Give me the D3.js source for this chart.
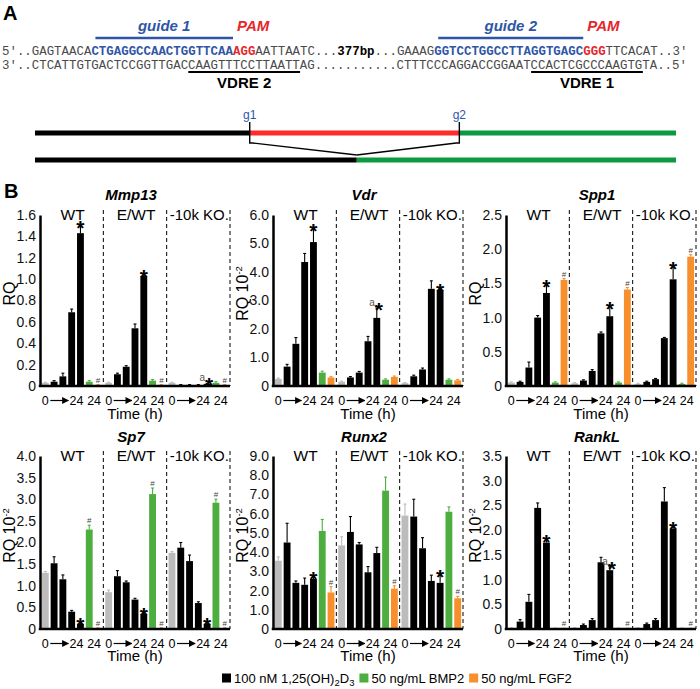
<!DOCTYPE html>
<html><head><meta charset="utf-8">
<script src="https://cdn.jsdelivr.net/npm/d3@7"></script>
<style>body{margin:0;background:#fff}svg{display:block}</style>
</head><body><svg id="c" width="700" height="689"></svg>
<script>
// ---------------- DATA ----------------
const groups = ["WT", "E/WT", "-10k KO."];
const treatments = ["0 h", "1,25D3 a", "1,25D3 b", "1,25D3 c", "1,25D3 24 h", "BMP2 24 h", "FGF2 24 h"];
const treatmentColors = ["#bcbcbc", "#000", "#000", "#000", "#000", "#4dae3f", "#f68f2c"];
const genes = ["Mmp13", "Vdr", "Spp1", "Sp7", "Runx2", "RankL"];
const yMaxes = [1.6, 6.0, 2.5, 4.0, 9.0, 3.5];
const ySteps = [0.2, 1.0, 0.5, 0.5, 1.0, 0.5];
const yTitles = ["RQ", "RQ 10", "RQ", "RQ 10", "RQ 10", "RQ 10"];
const yTitleSup = ["", "-2", "", "-2", "-2", "-2"];
const xTickLabels = ["0", "24", "24"];

const mmp13Values = [[0.03,0.04,0.09,0.69,1.43,0.04,0.01],[0.03,0.11,0.18,0.54,1.03,0.05,0.01],[0.03,0.01,0.01,0.01,0.02,0.03,0.01]];
const mmp13Errors = [[0.005,0.01,0.03,0.03,0.07,0.01,0.003],[0.005,0.01,0.01,0.04,0.01,0.01,0.003],[0.005,0.003,0.003,0.003,0.005,0.01,0.003]];
const vdrValues = [[0.25,0.68,1.48,4.35,5.05,0.47,0.30],[0.15,0.30,0.47,1.57,2.39,0.22,0.32],[0.10,0.34,0.58,3.41,3.37,0.22,0.20]];
const vdrErrors = [[0.03,0.08,0.22,0.30,0.45,0.05,0.03],[0.02,0.03,0.04,0.17,0.35,0.03,0.03],[0.02,0.04,0.05,0.28,0.03,0.03,0.03]];
const spp1Values = [[0.05,0.06,0.27,1.00,1.36,0.05,1.55],[0.04,0.08,0.22,0.77,1.02,0.05,1.41],[0.03,0.06,0.10,0.70,1.56,0.03,1.89]];
const spp1Errors = [[0.01,0.01,0.08,0.03,0.12,0.01,0.02],[0.01,0.01,0.02,0.02,0.14,0.01,0.03],[0.01,0.01,0.01,0.01,0.18,0.01,0.03]];
const sp7Values = [[1.30,1.52,1.15,0.40,0.12,2.30,0.02],[0.85,1.22,1.08,0.68,0.35,3.12,0.02],[1.76,1.88,1.57,0.60,0.12,2.92,0.02]];
const sp7Errors = [[0.03,0.15,0.10,0.03,0.02,0.10,0.01],[0.05,0.13,0.03,0.03,0.02,0.14,0.01],[0.03,0.12,0.14,0.03,0.02,0.08,0.01]];
const runx2Values = [[3.55,4.50,2.40,2.30,2.60,5.10,1.90],[4.35,5.05,4.40,2.95,3.95,7.20,2.10],[5.90,5.85,4.20,2.50,2.40,6.10,1.60]];
const runx2Errors = [[0.20,1.00,0.10,0.35,0.10,0.60,0.30],[0.45,0.80,0.10,0.30,0.30,0.70,0.15],[0.60,0.90,0.55,0.30,0.40,0.25,0.10]];
const rankLValues = [[0.02,0.15,0.55,2.45,1.75,0.01,0.01],[0.02,0.08,0.18,1.35,1.19,0.01,0.01],[0.02,0.10,0.18,2.58,2.03,0.01,0.01]];
const rankLErrors = [[0.005,0.04,0.15,0.10,0.05,0.005,0.005],[0.005,0.02,0.03,0.10,0.07,0.005,0.005],[0.005,0.02,0.03,0.28,0.03,0.005,0.005]];

// significance marks: [group index, bar index, symbol]
const mmp13Marks = [[0,4,"*"],[0,6,"#"],[1,4,"*"],[1,6,"#"],[2,4,"a*"],[2,6,"#"]];
const vdrMarks = [[0,4,"*"],[1,4,"a*"],[2,4,"*"]];
const spp1Marks = [[0,4,"*"],[0,6,"#"],[1,4,"*"],[1,6,"#"],[2,4,"*"],[2,6,"#"]];
const sp7Marks = [[0,4,"*"],[0,5,"#"],[0,6,"#"],[1,4,"*"],[1,5,"#"],[1,6,"#"],[2,4,"*"],[2,5,"#"],[2,6,"#"]];
const runx2Marks = [[0,4,"*"],[0,6,"#"],[1,6,"#"],[2,4,"*"],[2,6,"#"]];
const rankLMarks = [[0,4,"*"],[0,6,"#"],[1,4,"a*"],[1,6,"#"],[2,4,"*"],[2,6,"#"]];

const legendLabels = ["100 nM 1,25(OH)", "50 ng/mL BMP2", "50 ng/mL FGF2"];
const legendColors = ["#000", "#4dae3f", "#f68f2c"];

// Panel A sequence data
const seqTopSegments = ["5'..GAGTAACA", "CTGAGGCCAACTGGTTCAA", "AGG", "AATTAATC...", "377bp", "...GAAAG", "GGTCCTGGCCTTAGGTGAGC", "GGG", "TTCACAT..3'"];
const seqTopKinds = ["n", "g", "p", "n", "b", "n", "g", "p", "n"];
const seqBottom = "3'..CTCATTGTGACTCCGGTTGACCAAGTTTCCTTAATTAG...........CTTTCCCAGGACCGGAATCCACTCGCCCAAGTGTA..5'";
const guideLabels = ["guide 1", "guide 2"];
const guideChars = [[12, 31], [58, 78]];
const vdreLabels = ["VDRE 2", "VDRE 1"];
const vdreChars = [[25, 40], [71, 86]];
const cutLabels = ["g1", "g2"];
const cutPositions = [33.5, 66.2];      // positions along the locus (0..100)
const junctionPosition = 50.2;

// ---------------- DRAW ----------------
const FONT = '"Liberation Sans", Arial, Helvetica, sans-serif';
const svg = d3.select("#c").attr("font-family", FONT);
const BLUE = "#2f56a6", RED = "#e5262b";

// Panel labels
svg.append("text").attr("x", 3).attr("y", 20).attr("font-size", 20).attr("font-weight", "bold").text("A");
svg.append("text").attr("x", 4).attr("y", 198).attr("font-size", 20).attr("font-weight", "bold").text("B");

// ---- Sequences ----
const FS = 12.42, CW = FS * 0.6, SX = 2;
const cx = i => SX + i * CW;
const MONO = '"Liberation Mono", "DejaVu Sans Mono", monospace';
const seqColor = {n: "#4a4a4a", g: BLUE, p: RED, b: "#000"};
let idx = 0;
const t1 = svg.append("text").attr("y", 55).attr("font-family", MONO).attr("font-size", FS).attr("xml:space", "preserve");
seqTopSegments.forEach((s, i) => {
  const k = seqTopKinds[i];
  t1.append("tspan").attr("x", cx(idx)).attr("fill", seqColor[k])
    .attr("font-weight", k === "n" ? "normal" : "bold").text(s);
  idx += s.length;
});
svg.append("text").attr("x", cx(0)).attr("y", 69).attr("font-family", MONO).attr("font-size", FS)
  .attr("fill", "#4a4a4a").attr("xml:space", "preserve").text(seqBottom);

guideChars.forEach((r, i) => {
  svg.append("line").attr("x1", cx(r[0]) + 4).attr("x2", cx(r[1])).attr("y1", 38).attr("y2", 38)
    .attr("stroke", BLUE).attr("stroke-width", 2.5);
  svg.append("text").attr("x", (cx(r[0]) + cx(r[1])) / 2 + 2).attr("y", 31).attr("text-anchor", "middle")
    .attr("font-size", 15).attr("font-weight", "bold").attr("font-style", "italic").attr("fill", BLUE).text(guideLabels[i]);
  svg.append("text").attr("x", cx(r[1]) + 4).attr("y", 31)
    .attr("font-size", 15).attr("font-weight", "bold").attr("font-style", "italic").attr("fill", RED).text("PAM");
});
vdreChars.forEach((r, i) => {
  svg.append("line").attr("x1", cx(r[0])).attr("x2", cx(r[1])).attr("y1", 72).attr("y2", 72)
    .attr("stroke", "#000").attr("stroke-width", 2.2);
  svg.append("text").attr("x", (cx(r[0]) + cx(r[1])) / 2).attr("y", 88).attr("text-anchor", "middle")
    .attr("font-size", 15).attr("font-weight", "bold").text(vdreLabels[i]);
});

// ---- Locus diagram ----
const lx = d3.scaleLinear().domain([0, 100]).range([35, 676]);
const GREEN_D = "#0b9a3f", RED_D = "#ff2b2b";
const topY = 133, botY = 160;
[[0, cutPositions[0], "#000"], [cutPositions[0], cutPositions[1], RED_D], [cutPositions[1], 100, GREEN_D]].forEach(s => {
  svg.append("line").attr("x1", lx(s[0])).attr("x2", lx(s[1])).attr("y1", topY).attr("y2", topY)
    .attr("stroke", s[2]).attr("stroke-width", 5);
});
[[0, junctionPosition, "#000"], [junctionPosition, 100, GREEN_D]].forEach(s => {
  svg.append("line").attr("x1", lx(s[0])).attr("x2", lx(s[1])).attr("y1", botY).attr("y2", botY)
    .attr("stroke", s[2]).attr("stroke-width", 5);
});
cutPositions.forEach((c, i) => {
  const dir = i === 0 ? 1 : -1;
  svg.append("path").attr("fill", "none").attr("stroke", "#000").attr("stroke-width", 1.4)
    .attr("d", `M${lx(c)},122 V143 L${lx(c) + dir * 3},143 L${lx(junctionPosition)},155`);
  svg.append("text").attr("x", lx(c)).attr("y", 119).attr("text-anchor", "middle")
    .attr("font-size", 12).attr("fill", BLUE).text(cutLabels[i]);
});

// ---- Bar panels ----
const rows = [
  {top: 215, bottom: 386, title: 200, glabel: 220, xlab: 405, time: 419},
  {top: 456, bottom: 629, title: 442, glabel: 461, xlab: 648, time: 661}
];
const panelX = [40, 273, 506];
const allValues = [mmp13Values, vdrValues, spp1Values, sp7Values, runx2Values, rankLValues];
const allErrors = [mmp13Errors, vdrErrors, spp1Errors, sp7Errors, runx2Errors, rankLErrors];
const allMarks = [mmp13Marks, vdrMarks, spp1Marks, sp7Marks, runx2Marks, rankLMarks];

const defs = svg.append("defs");
defs.append("marker").attr("id", "arr").attr("viewBox", "0 0 10 10").attr("refX", 9).attr("refY", 5)
  .attr("markerWidth", 7).attr("markerHeight", 7).attr("markerUnits", "userSpaceOnUse").attr("orient", "auto")
  .append("path").attr("d", "M0,0 L10,5 L0,10 z").attr("fill", "#000");

genes.forEach((gene, pi) => {
  const row = rows[Math.floor(pi / 3)];
  const x0 = panelX[pi % 3];
  const W = 190;
  const g = svg.append("g");
  const gx = d3.scaleBand().domain(groups).range([x0, x0 + W]);
  const bx = d3.scaleBand().domain(d3.range(treatments.length)).range([1, gx.bandwidth() - 1])
    .paddingInner(0.22).paddingOuter(0.1);
  const y = d3.scaleLinear().domain([0, yMaxes[pi]]).range([row.bottom, row.top]);
  const bw = bx.bandwidth();
  const values = allValues[pi], errors = allErrors[pi];

  // title
  g.append("text").attr("x", x0 + 91).attr("y", row.title).attr("text-anchor", "middle")
    .attr("font-size", 15).attr("font-weight", "bold").attr("font-style", "italic").text(gene);

  // dashed separators + group labels
  groups.forEach(gr => {
    const xr = gx(gr) + gx.bandwidth();
    g.append("line").attr("x1", xr).attr("x2", xr).attr("y1", row.top - 5).attr("y2", row.bottom)
      .attr("stroke", "#000").attr("stroke-width", 1).attr("stroke-dasharray", "4,3");
    g.append("text").attr("x", gx(gr) + gx.bandwidth() / 2 + 1).attr("y", row.glabel).attr("text-anchor", "middle")
      .attr("font-size", gr.length > 5 ? 15 : 15.5).text(gr);
  });

  // bars + error bars
  groups.forEach((gr, gi) => {
    const gg = g.append("g").attr("transform", `translate(${gx(gr)},0)`);
    gg.selectAll("rect").data(values[gi]).join("rect")
      .attr("x", (d, bi) => bx(bi)).attr("width", bw)
      .attr("y", d => y(d)).attr("height", d => y(0) - y(d))
      .attr("fill", (d, bi) => treatmentColors[bi]);
    const eb = gg.selectAll("g.eb").data(values[gi]).join("g").attr("class", "eb");
    eb.append("line")
      .attr("x1", (d, bi) => bx(bi) + bw / 2).attr("x2", (d, bi) => bx(bi) + bw / 2)
      .attr("y1", d => y(d)).attr("y2", (d, bi) => y(d + errors[gi][bi]))
      .attr("stroke", (d, bi) => treatmentColors[bi]).attr("stroke-width", 1.1);
    eb.append("line")
      .attr("x1", (d, bi) => bx(bi) + bw / 2 - 1.5).attr("x2", (d, bi) => bx(bi) + bw / 2 + 1.5)
      .attr("y1", (d, bi) => y(d + errors[gi][bi])).attr("y2", (d, bi) => y(d + errors[gi][bi]))
      .attr("stroke", (d, bi) => treatmentColors[bi]).attr("stroke-width", 1.1);

    // x tick labels
    const c0 = bx(0) + bw / 2, c4 = bx(4) + bw / 2, c56 = (bx(5) + bx(6) + bw) / 2;
    const XF = 12.5;
    gg.append("text").attr("x", c0).attr("y", row.xlab).attr("text-anchor", "middle").attr("font-size", XF).text(xTickLabels[0]);
    gg.append("text").attr("x", c4 - 4).attr("y", row.xlab).attr("text-anchor", "middle").attr("font-size", XF).text(xTickLabels[1]);
    gg.append("text").attr("x", c56 + 0.5).attr("y", row.xlab).attr("text-anchor", "middle").attr("font-size", XF).text(xTickLabels[2]);
    gg.append("line").attr("x1", c0 + 5).attr("x2", c4 - 12).attr("y1", row.xlab - 4.5).attr("y2", row.xlab - 4.5)
      .attr("stroke", "#000").attr("stroke-width", 1.2).attr("marker-end", "url(#arr)");
  });

  // significance marks
  allMarks[pi].forEach(([gi, bi, sym]) => {
    const gr = groups[gi];
    const xc = gx(gr) + bx(bi) + bw / 2;
    const top = y(values[gi][bi] + errors[gi][bi]);
    if (sym === "#") {
      g.append("text").attr("x", xc).attr("y", top - 2).attr("text-anchor", "middle")
        .attr("font-size", 8).attr("fill", "#444").text("#");
    } else {
      g.append("text").attr("x", xc + (sym === "a*" ? 2 : 0)).attr("y", top + 9).attr("text-anchor", "middle")
        .attr("font-size", 21).attr("font-weight", "bold").text("*");
      if (sym === "a*") {
        g.append("text").attr("x", xc - 2).attr("y", top - 2).attr("text-anchor", "end")
          .attr("font-size", 10).attr("fill", "#555").text("a");
      }
    }
  });

  // baseline
  g.append("line").attr("x1", x0 - 1.25).attr("x2", x0 + W).attr("y1", y(0)).attr("y2", y(0))
    .attr("stroke", "#000").attr("stroke-width", 2.5);

  // y axis
  const ticks = d3.range(0, yMaxes[pi] + ySteps[pi] / 2, ySteps[pi]);
  const ax = d3.axisLeft(y).tickValues(ticks).tickSizeInner(0).tickSizeOuter(0).tickPadding(4)
    .tickFormat(d => Math.abs(d) < 1e-9 ? "0" : d3.format(".1f")(d));
  const ag = g.append("g").attr("transform", `translate(${x0},0)`).call(ax);
  ag.select(".domain").attr("stroke", "#000").attr("stroke-width", 2.5);
  ag.selectAll("text").attr("font-size", 14).attr("font-family", FONT).attr("fill", "#111");

  // y title
  const yt = g.append("text").attr("transform", `translate(${x0 - 25},${(row.top + row.bottom) / 2 - 7}) rotate(-90)`)
    .attr("text-anchor", "middle").attr("font-size", 16);
  yt.append("tspan").text(yTitles[pi]);
  if (yTitleSup[pi]) yt.append("tspan").attr("dy", -6).attr("font-size", 9.5).text(yTitleSup[pi]);

  // x title
  g.append("text").attr("x", x0 + 95).attr("y", row.time).attr("text-anchor", "middle").attr("font-size", 15).text("Time (h)");
});

// ---- Legend ----
let lxPos = 222;
const ly = 683;
legendLabels.forEach((lab, i) => {
  svg.append("rect").attr("x", lxPos).attr("y", ly - 9.5).attr("width", 9).attr("height", 9).attr("fill", legendColors[i]);
  const t = svg.append("text").attr("x", lxPos + 12).attr("y", ly).attr("font-size", 13);
  t.append("tspan").text(lab);
  if (i === 0) {
    t.append("tspan").attr("font-size", 9.5).attr("dy", 3).text("2");
    t.append("tspan").attr("dy", -3).text("D");
    t.append("tspan").attr("font-size", 9.5).attr("dy", 3).text("3");
  }
  lxPos += 12 + t.node().getComputedTextLength() + 5;
});
</script>
</body></html>
